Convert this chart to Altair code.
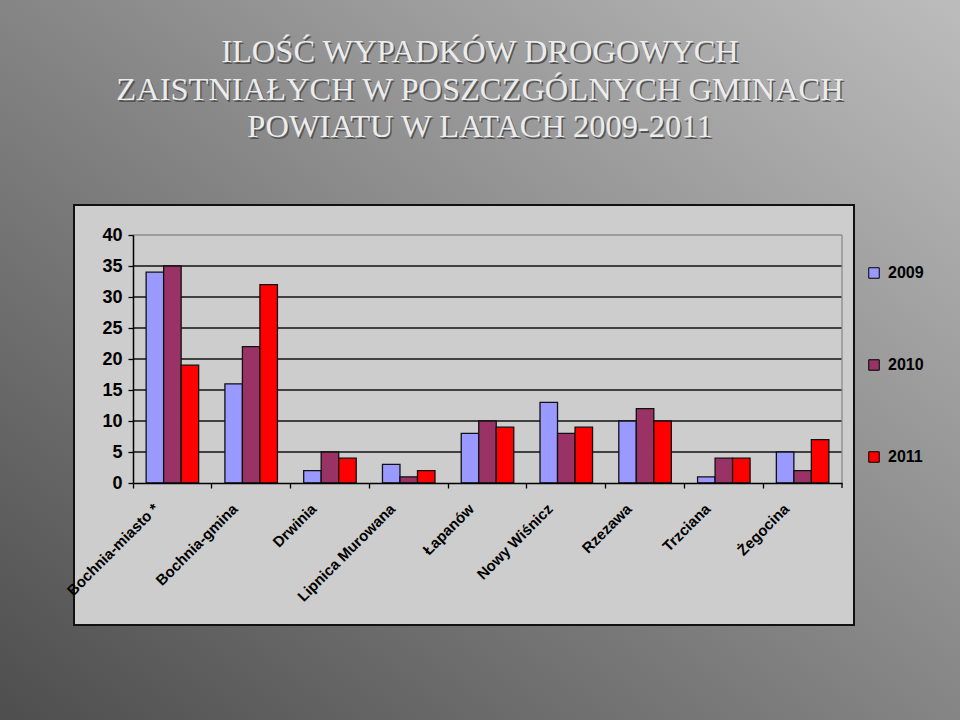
import altair as alt
import pandas as pd

# ---- data ----
gminy = ["Bochnia-miasto *", "Bochnia-gmina", "Drwinia", "Lipnica Murowana",
         "Łapanów", "Nowy Wiśnicz", "Rzezawa", "Trzciana", "Żegocina"]
lata = ["2009", "2010", "2011"]
v2009 = [34, 16, 2, 3, 8, 13, 10, 1, 5]
v2010 = [35, 22, 5, 1, 10, 8, 12, 4, 2]
v2011 = [19, 32, 4, 2, 9, 9, 10, 4, 7]
kolory = ["#9999FF", "#993366", "#FF0000"]
y_ticks = [0, 5, 10, 15, 20, 25, 30, 35, 40]
title_lines = ["ILOŚĆ WYPADKÓW DROGOWYCH",
               "ZAISTNIAŁYCH W POSZCZGÓLNYCH GMINACH",
               "POWIATU W LATACH 2009-2011"]

rows = []
for rok, vals in zip(lata, [v2009, v2010, v2011]):
    for g, v in zip(gminy, vals):
        rows.append({"gmina": g, "rok": rok, "liczba": v})
df = pd.DataFrame(rows)
grid_df = pd.DataFrame({"liczba": y_ticks[1:-1]})
top_df = pd.DataFrame({"liczba": [y_ticks[-1]]})
one = pd.DataFrame({"a": [0]})

W, H = 709, 248
L, T = 133, 235
FONT = "Liberation Sans"

# ---- background layers ----
bg = alt.Chart(one).mark_rect(
    color=alt.LinearGradient(
        gradient="linear", x1=1, y1=0, x2=0, y2=1,
        stops=[alt.GradientStop(offset=0, color="#bcbcbc"),
               alt.GradientStop(offset=1, color="#4e4e4e")]
    )
).encode(x=alt.value(-L), x2=alt.value(960 - L), y=alt.value(-T), y2=alt.value(720 - T))

box = alt.Chart(one).mark_rect(fill="#cdcdcd", stroke="#111111", strokeWidth=2).encode(
    x=alt.value(74 - L), x2=alt.value(854 - L), y=alt.value(205 - T), y2=alt.value(625 - T)
)

title_layers = []
centers = [52, 90, 127]
for line, cy in zip(title_lines, centers):
    shadow = alt.Chart(one).mark_text(
        font="Liberation Serif", fontSize=32.5, color="#555555", baseline="middle", align="center"
    ).encode(x=alt.value(480 - L + 1.5), y=alt.value(cy - T + 1.5), text=alt.value(line))
    light = alt.Chart(one).mark_text(
        font="Liberation Serif", fontSize=32.5, color="#ececec", baseline="middle", align="center"
    ).encode(x=alt.value(480 - L), y=alt.value(cy - T), text=alt.value(line))
    title_layers += [shadow, light]

yscale = alt.Scale(domain=[0, 40], nice=False)
yaxis = alt.Axis(title=None, values=y_ticks, labelFont=FONT, labelFontSize=18,
                 labelFontWeight="bold", labelColor="black", labelPadding=6,
                 tickColor="black", tickSize=5, tickWidth=1.3,
                 domainColor="black", domainWidth=1.5, grid=False, zindex=1)

grid = alt.Chart(grid_df).mark_rule(color="#111111", strokeWidth=1.3).encode(
    y=alt.Y("liczba:Q", scale=yscale, axis=yaxis)
)
top_line = alt.Chart(top_df).mark_rule(color="#8a8a8a", strokeWidth=1.3).encode(
    y=alt.Y("liczba:Q", scale=yscale, axis=yaxis)
)
right_line = alt.Chart(one).mark_rule(color="#8a8a8a", strokeWidth=1.3).encode(
    x=alt.value(W), y=alt.value(0), y2=alt.value(H)
)

bars = alt.Chart(df).mark_bar(stroke="#111111", strokeWidth=1.3, opacity=1).encode(
    x=alt.X("gmina:N", sort=gminy,
            scale=alt.Scale(paddingInner=0, paddingOuter=0),
            axis=alt.Axis(title=None, labelAngle=-45, labelFont=FONT, labelFontSize=15,
                          labelFontWeight="bold", labelColor="black", labelAlign="right",
                          labelBaseline="top", labelOffset=-21, labelPadding=13,
                          tickColor="black", tickSize=5, tickWidth=1.3, bandPosition=0,
                          domainColor="black", domainWidth=1.5, grid=False, zindex=1,
                          labelLimit=300)),
    xOffset=alt.XOffset("rok:N", sort=lata,
                        scale=alt.Scale(paddingInner=0, paddingOuter=0.75)),
    y=alt.Y("liczba:Q", scale=yscale, axis=yaxis),
    color=alt.Color("rok:N", sort=lata, scale=alt.Scale(domain=lata, range=kolory),
                    legend=alt.Legend(title=None, orient="none", legendX=733, legendY=30,
                                      symbolType="square", symbolSize=110,
                                      symbolStrokeColor="black", symbolStrokeWidth=1,
                                      symbolOpacity=1,
                                      labelFont=FONT, labelFontSize=16, labelFontWeight="bold",
                                      labelColor="black", rowPadding=76, padding=0,
                                      labelOffset=6, zindex=1))
)

end_tick = alt.Chart(one).mark_rule(color="black", strokeWidth=1.3).encode(
    x=alt.value(W), y=alt.value(H), y2=alt.value(H + 5)
)

chart = alt.layer(bg, box, *title_layers, grid, top_line, right_line, bars, end_tick).properties(
    width=W, height=H,
    autosize=alt.AutoSizeParams(type="none"),
    padding={"left": L, "top": T, "right": 960 - L - W, "bottom": 720 - T - H},
    background="#888888",
).configure_view(stroke=None)

chart.save("out.html", embed_options={"renderer": "svg", "actions": False})
